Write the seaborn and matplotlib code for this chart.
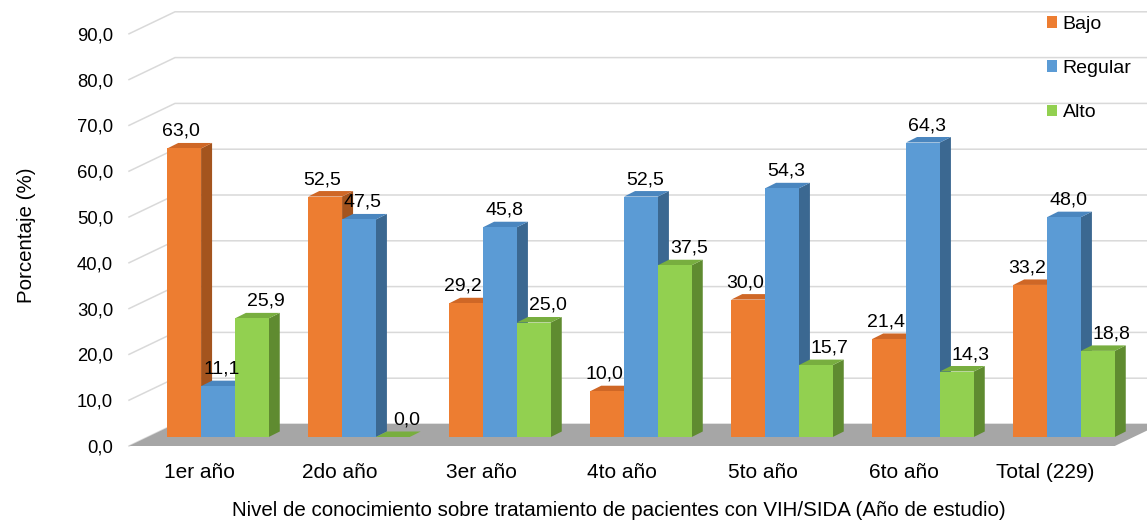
import numpy as np
import pandas as pd
import matplotlib
matplotlib.use("Agg")
import matplotlib.pyplot as plt
import seaborn as sns
from matplotlib.patches import Polygon

# datos del grafico
anios = ["1er año", "2do año", "3er año", "4to año", "5to año", "6to año", "Total (229)"]
bajo = [63.0, 52.5, 29.2, 10.0, 30.0, 21.4, 33.2]
regular = [11.1, 47.5, 45.8, 52.5, 54.3, 64.3, 48.0]
alto = [25.9, 0.0, 25.0, 37.5, 15.7, 14.3, 18.8]
niveles = ["Bajo", "Regular", "Alto"]
ticks_y = [0, 10, 20, 30, 40, 50, 60, 70, 80, 90]

df = pd.DataFrame({
    "anio": anios * 3,
    "nivel": ["Bajo"] * 7 + ["Regular"] * 7 + ["Alto"] * 7,
    "pct": bajo + regular + alto,
})

frente = {"Bajo": "#ED7D31", "Regular": "#5B9BD5", "Alto": "#92D050"}
lado = {"Bajo": "#A4541E", "Regular": "#3B6891", "Alto": "#5F8B30"}
tapa = {"Bajo": "#CF6726", "Regular": "#4A86BF", "Alto": "#78AE3F"}

W, H, DPI = 1147, 526, 100
PX_X = 141.0   # pixeles por categoria
PX_Y = 4.58    # pixeles por punto porcentual

def dx(px):
    return px / PX_X

def dy(px):
    return px / PX_Y

plt.rcParams["font.family"] = ["Liberation Sans", "DejaVu Sans"]

fig = plt.figure(figsize=(W / DPI, H / DPI), dpi=DPI)
# ejes: izquierda en el plano frontal, abajo en el piso frontal
left_px, bottom_px = 129, 446
ax = fig.add_axes([left_px / W, (H - bottom_px) / H, (W - left_px) / W, bottom_px / H])
ax.patch.set_alpha(0)

x0_px = 218  # centro de la primera categoria (plano de las barras)

# profundidad
prof_x, prof_y = 46, 22          # pared / piso
barra_x, barra_y = 18.8, 9       # plano de barras respecto al plano frontal
lado_x, lado_y = 11, 5.5         # profundidad de cada barra

sns.barplot(data=df, x="anio", y="pct", hue="nivel", hue_order=niveles,
            palette=frente, saturation=1, width=0.72, edgecolor="none",
            errorbar=None, zorder=3, ax=ax)

ax.set_xlim((left_px - x0_px) / PX_X, (W - x0_px) / PX_X)
ax.set_ylim(-dy(barra_y), dy(437))
xL, xR = ax.get_xlim()

# lineas de division: diagonal en la pared izquierda y horizontal en la pared del fondo
for v in ticks_y:
    yf = v - dy(barra_y)
    yb = yf + dy(prof_y)
    ax.plot([xL, xL + dx(prof_x), xR], [yf, yb, yb], color="#D9D9D9", lw=1.1,
            zorder=0.5, clip_on=False, solid_joinstyle="miter")

# piso
piso_fin = len(anios) - 1 + 0.36
yf0 = -dy(barra_y)
piso = Polygon([(xL, yf0), (piso_fin, yf0),
                (piso_fin + dx(prof_x), yf0 + dy(prof_y)),
                (xL + dx(prof_x), yf0 + dy(prof_y))],
               closed=True, facecolor="#A6A6A6", edgecolor="none", zorder=1, clip_on=False)
ax.add_patch(piso)

desp_etiqueta = {"Bajo": -3, "Regular": 4, "Alto": 14}
for cont, nivel in zip(ax.containers, niveles):
    for rect in cont:
        x, w, h = rect.get_x(), rect.get_width(), rect.get_height()
        ddx, ddy = dx(lado_x), dy(lado_y)
        ax.add_patch(Polygon([(x + w, 0), (x + w + ddx, ddy), (x + w + ddx, h + ddy), (x + w, h)],
                             closed=True, facecolor=lado[nivel], edgecolor="none", zorder=2))
        ax.add_patch(Polygon([(x, h), (x + ddx, h + ddy), (x + w + ddx, h + ddy), (x + w, h)],
                             closed=True, facecolor=tapa[nivel], edgecolor="none", zorder=2.5))
        ax.text(x + w / 2 + dx(desp_etiqueta[nivel]), h + dy(17), f"{h:.1f}".replace(".", ","),
                ha="center", va="center", fontsize=14, color="black", zorder=6)

ax.set_xticks(np.arange(len(anios)) - dx(barra_x), labels=anios)
ax.set_yticks(np.array(ticks_y) - dy(barra_y), labels=[f"{v:.1f}".replace(".", ",") for v in ticks_y])
ax.tick_params(axis="x", length=0, pad=12, labelsize=15)
ax.tick_params(axis="y", length=0, pad=11.5, labelsize=13.3)
ax.set_xlabel("")
ax.set_ylabel("")
for s in ax.spines.values():
    s.set_visible(False)

sns.move_legend(ax, "upper left", bbox_to_anchor=(1047 / W, 1 - 16 / H),
                bbox_transform=fig.transFigure, frameon=False, title=None,
                fontsize=14, handlelength=0.5, handleheight=0.55,
                handletextpad=0.3, labelspacing=1.4, borderpad=0, borderaxespad=0)

fig.text(26 / W, 1 - 235 / H, "Porcentaje (%)", rotation=90, ha="center", va="center", fontsize=14.8)
fig.text(619 / W, 1 - 511 / H,
         "Nivel de conocimiento sobre tratamiento de pacientes con VIH/SIDA (Año de estudio)",
         ha="center", va="center", fontsize=14.8)

fig.savefig("out.png", dpi=DPI)
